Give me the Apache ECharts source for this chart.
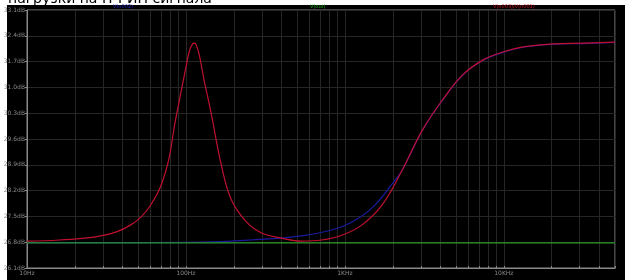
<!DOCTYPE html>
<html><head><meta charset="utf-8">
<script src="https://cdn.jsdelivr.net/npm/echarts@6/dist/echarts.min.js"></script>
<style>html,body{margin:0;padding:0;background:#fff}#c{width:633px;height:280px}</style>
</head><body><div id="c"></div>
<script>
const titleText = 'нагрузки на ПЧ-ИП сигнала';
const seriesNames = ['V(n002)', 'V(out)', 'V(n003)/V(n001)'];
const yTicks = [26.1, 26.8, 27.5, 28.2, 28.9, 29.6, 30.3, 31.0, 31.7, 32.4, 33.1];
const xLabelTicks = [10, 100, 1000, 10000];
const xGridTicks = [10,20,30,40,50,60,70,80,90,100,200,300,400,500,600,700,800,900,1000,2000,3000,4000,5000,6000,7000,8000,9000,10000,20000,30000,40000,50000];

const freqBlue = [10, 50, 124, 257, 534, 826, 1110, 1482, 1982, 2295, 3070, 4110, 5505, 7365, 9860, 13200, 20400, 31600, 50000];
const valBlue  = [26.79, 26.79, 26.80, 26.86, 26.97, 27.13, 27.35, 27.73, 28.38, 28.76, 29.83, 30.65, 31.33, 31.73, 31.95, 32.09, 32.17, 32.19, 32.22];

const freqGreen = [10, 50000];
const valGreen  = [26.78, 26.78];

const freqRed = [10, 16, 29, 45, 60, 75, 86, 100, 105, 110, 113, 116, 121, 130, 144, 167, 193, 240, 299, 399, 534, 715, 957, 1282, 1714, 2295, 3070, 4110, 5505, 7365, 9860, 13200, 20400, 31600, 50000];
const valRed  = [26.83, 26.86, 26.97, 27.27, 27.81, 28.76, 30.12, 31.55, 31.98, 32.18, 32.20, 32.15, 31.90, 31.20, 30.30, 28.89, 27.95, 27.35, 27.05, 26.91, 26.83, 26.86, 26.99, 27.27, 27.81, 28.76, 29.84, 30.66, 31.34, 31.74, 31.96, 32.10, 32.18, 32.20, 32.23];

const zip = (a, b) => a.map((v, i) => [v, b[i]]);
const fmtF = v => v >= 1000 ? (v / 1000) + 'KHz' : v + 'Hz';

const chart = echarts.init(document.getElementById('c'), null, {renderer: 'canvas'});
chart.setOption({
  backgroundColor: '#ffffff',
  animation: false,
  graphic: [
    {type: 'rect', left: 7, top: 5, shape: {width: 618, height: 275}, style: {fill: '#000000'}, z: -10},
    {type: 'text', left: 8, top: -8, style: {text: titleText, fill: '#000', font: '14px "DejaVu Sans"'}},
    {type: 'text', left: 113, top: 4, style: {text: seriesNames[0], fill: '#2020c0', font: '5px "DejaVu Sans"'}},
    {type: 'text', left: 310, top: 4, style: {text: seriesNames[1], fill: '#20b020', font: '5px "DejaVu Sans"'}},
    {type: 'text', left: 493, top: 4, style: {text: seriesNames[2], fill: '#c01020', font: '5px "DejaVu Sans"'}}
  ],
  grid: {left: 27, top: 10, right: 18, bottom: 12, show: true, borderColor: '#8a8a8a', borderWidth: 1},
  xAxis: {
    type: 'log', logBase: 10, min: 10, max: 50000,
    axisLine: {show: true, lineStyle: {color: '#8a8a8a'}},
    axisTick: {show: true, inside: true, length: 2, customValues: xGridTicks, lineStyle: {color: '#8a8a8a'}},
    axisLabel: {customValues: xLabelTicks, formatter: fmtF, color: '#8a8a8a', fontSize: 6, margin: 2, fontFamily: 'DejaVu Sans'},
    splitLine: {show: true, lineStyle: {color: '#262626', width: 1}}
  },
  yAxis: {
    type: 'value', min: 26.1, max: 33.1,
    axisLine: {show: true, lineStyle: {color: '#8a8a8a'}},
    axisTick: {show: true, length: 2, customValues: yTicks, lineStyle: {color: '#8a8a8a'}},
    axisLabel: {customValues: yTicks, formatter: v => v.toFixed(1) + 'dB', color: '#8a8a8a', fontSize: 6, margin: 2, fontFamily: 'DejaVu Sans'},
    splitLine: {show: true, lineStyle: {color: '#262626', width: 1}}
  },
  series: [
    {name: seriesNames[0], type: 'line', data: zip(freqBlue, valBlue), smooth: 0.4, showSymbol: false, lineStyle: {color: '#1a1aa0', width: 1.2}, z: 2},
    {name: seriesNames[1], type: 'line', data: zip(freqGreen, valGreen), showSymbol: false, lineStyle: {color: '#2a9a2a', width: 1.2}, z: 3},
    {name: seriesNames[2], type: 'line', data: zip(freqRed, valRed), smooth: 0.4, showSymbol: false, lineStyle: {color: '#c01030', width: 1.2}, z: 4}
  ]
});
</script></body></html>
